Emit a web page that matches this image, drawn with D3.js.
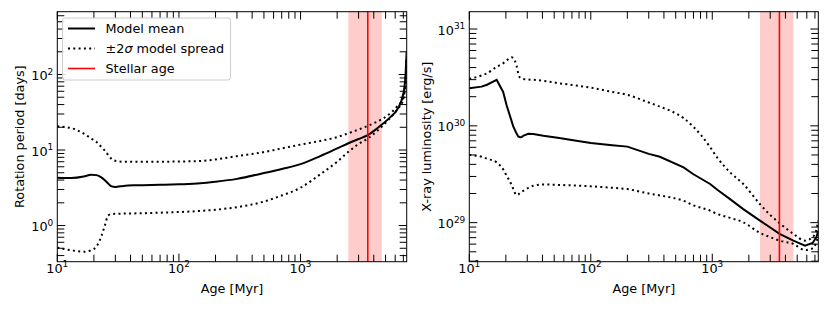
<!DOCTYPE html>
<html>
<head>
<meta charset="utf-8">
<script src="https://cdn.jsdelivr.net/npm/d3@7/dist/d3.min.js"></script>
<style>
  body { margin: 0; background: #fff; }
  text { font-family: "DejaVu Sans", sans-serif; fill: #000; }
</style>
</head>
<body>
<div id="chart"></div>
<script>
// ---- data ----
// left panel: rotation period [days] vs age [Myr]
let rotAge = [10, 13, 16.5, 19, 21, 23, 24.5, 26.2, 28, 30, 35, 45, 70, 100, 150, 200, 300, 500, 700,
              1000, 1450, 2000, 2500, 3000, 3600, 4200, 4800, 5500, 6200, 7000, 7300, 7450];
let rotMean = [4.3, 4.25, 4.45, 4.72, 4.65, 4.35, 4.0, 3.6, 3.3, 3.25, 3.35, 3.42, 3.47, 3.52, 3.62, 3.8, 4.15, 4.95, 5.6,
               6.5, 8.3, 10.5, 12.4, 14.0, 15.9, 19, 22.6, 27.5, 34, 56, 100, 200];
let rotUpper = [20.6, 19.5, 16.5, 14.2, 12.8, 11.0, 9.9, 8.6, 7.6, 7.2, 7.0, 7.0, 7.0, 7.05, 7.15, 7.5, 8.3, 9.4, 10.5,
                11.8, 13.2, 14.8, 16.8, 18.7, 21, 23.5, 26.3, 31, 37.5, 50, 80, 160];
let rotLower = [0.51, 0.47, 0.45, 0.47, 0.53, 0.72, 0.98, 1.36, 1.42, 1.43, 1.44, 1.45, 1.48, 1.51, 1.56, 1.62, 1.75, 2.08, 2.5,
                3.17, 4.76, 7.0, 9.6, 12, 14.3, 17.5, 21.4, 27, 34, 47, 85, 170];

// right panel: X-ray luminosity [erg/s] vs age [Myr]
let lxAge = [10, 12.6, 14, 16.8, 19, 20.3, 22.3, 23, 24.5, 25.3, 26.1, 27, 28, 30.6, 33.6, 40.7, 55, 67.5, 100, 150, 200,
             300, 370, 580, 700, 960, 1100, 1400, 1800, 2470, 3000, 3580, 4650, 5800, 6700, 7200, 7450];
let lxMean = [2.45e30, 2.54e30, 2.66e30, 2.98e30, 2.24e30, 1.62e30, 1.12e30, 9.84e29, 8.32e29, 7.76e29, 7.64e29, 7.67e29, 7.94e29,
              8.28e29, 8.22e29, 7.89e29, 7.50e29, 7.18e29, 6.64e29, 6.31e29, 6.10e29,
              5.13e29, 4.79e29, 3.72e29, 3.16e29, 2.51e29, 2.19e29, 1.75e29, 1.38e29, 1.05e29, 8.91e28, 7.66e28, 6.52e28, 5.79e28, 6.17e28, 7.08e28, 8.26e28];
let lxUpper = [3.05e30, 3.31e30, 3.49e30, 4.07e30, 4.43e30, 4.73e30, 5.11e30, 5.01e30, 4.17e30, 3.47e30, 3.16e30, 3.09e30, 3.05e30,
               3.01e30, 2.99e30, 2.92e30, 2.75e30, 2.66e30, 2.48e30, 2.24e30, 2.09e30,
               1.74e30, 1.58e30, 1.20e30, 9.77e29, 6.03e29, 4.68e29, 3.31e29, 2.51e29, 1.55e29, 1.20e29, 9.89e28, 7.66e28, 6.52e28, 7.08e28, 8.51e28, 1.05e29];
let lxLower = [5.01e29, 4.79e29, 4.57e29, 4.19e29, 3.55e29, 3.05e29, 2.45e29, 2.24e29, 1.93e29, 1.95e29, 2.04e29, 2.09e29, 2.14e29,
               2.29e29, 2.40e29, 2.48e29, 2.45e29, 2.43e29, 2.37e29, 2.29e29, 2.22e29,
               2.00e29, 1.91e29, 1.68e29, 1.51e29, 1.33e29, 1.23e29, 1.12e29, 1.01e29, 7.83e28, 7.08e28, 6.52e28, 6.03e28, 5.22e28, 5.43e28, 6.31e28, 7.35e28];

// stellar age and its range [Myr]
let stellarAge = 3570, stellarAgeLow = 2470, stellarAgeHigh = 4650;

let ageDomain = [10, 7460];
let rotDomain = [0.332, 679];
let lxDomain = [3.95e28, 1.51e31];

let legendItems = ["Model mean", "±2σ model spread", "Stellar age"];

// ---- drawing ----
let width = 830, height = 312, fontSize = 12.8;

let svg = d3.select("#chart")
    .append("svg")
    .attr("width", width)
    .attr("height", height);

function logTicks(domain) {
    let out = [];
    let lo = Math.floor(Math.log10(domain[0])), hi = Math.ceil(Math.log10(domain[1]));
    for (let e = lo; e <= hi; e++) {
        for (let k = 1; k < 10; k++) {
            let v = k * Math.pow(10, e);
            if (v >= domain[0] * 0.9999 && v <= domain[1] * 1.0001) out.push({ v: v, major: k === 1, e: e });
        }
    }
    return out;
}

function supLabel(sel, e) {
    sel.append("tspan").text("10");
    sel.append("tspan")
        .attr("dy", -5.5)
        .style("font-size", (fontSize * 0.7) + "px")
        .text(e);
}

function panel(p) {
    let x = d3.scaleLog().domain(ageDomain).range([p.x0, p.x1]);
    let y = d3.scaleLog().domain(p.yDomain).range([p.y1, p.y0]);
    let g = svg.append("g");

    g.append("clipPath").attr("id", "clip" + p.id)
        .append("rect")
        .attr("x", p.x0).attr("y", p.y0)
        .attr("width", p.x1 - p.x0).attr("height", p.y1 - p.y0);

    // age range shading
    g.append("rect")
        .attr("x", x(stellarAgeLow)).attr("y", p.y0)
        .attr("width", x(stellarAgeHigh) - x(stellarAgeLow))
        .attr("height", p.y1 - p.y0)
        .attr("fill", "#ffcccc");

    let curves = g.append("g").attr("clip-path", "url(#clip" + p.id + ")");
    [[p.upper, true, p.spreadCurve], [p.lower, true, p.spreadCurve], [p.mean, false, p.meanCurve]].forEach(function(s) {
        let line = d3.line()
            .x(function(d) { return x(d[0]); })
            .y(function(d) { return y(d[1]); })
            .curve(s[2]);
        curves.append("path")
            .datum(d3.zip(p.ages, s[0]))
            .attr("d", line)
            .attr("fill", "none")
            .attr("stroke", "#000")
            .attr("stroke-width", 2)
            .attr("stroke-dasharray", s[1] ? "2,3.3" : null);
    });

    g.append("line")
        .attr("x1", x(stellarAge)).attr("x2", x(stellarAge))
        .attr("y1", p.y0).attr("y2", p.y1)
        .attr("stroke", "#ff0000")
        .attr("stroke-width", 1.6);

    // frame
    g.append("rect")
        .attr("x", p.x0).attr("y", p.y0)
        .attr("width", p.x1 - p.x0).attr("height", p.y1 - p.y0)
        .attr("fill", "none").attr("stroke", "#000").attr("stroke-width", 1);

    // inward ticks on all sides
    let xt = logTicks(ageDomain), yt = logTicks(p.yDomain);
    xt.forEach(function(t) {
        let len = t.major ? 8 : 7, px = x(t.v);
        g.append("line").attr("x1", px).attr("x2", px).attr("y1", p.y1).attr("y2", p.y1 - len).attr("stroke", "#000");
        g.append("line").attr("x1", px).attr("x2", px).attr("y1", p.y0).attr("y2", p.y0 + len).attr("stroke", "#000");
        if (t.major) {
            g.append("text")
                .attr("x", px).attr("y", p.y1 + 11)
                .attr("text-anchor", "middle")
                .style("font-size", fontSize + "px")
                .call(supLabel, t.e);
        }
    });
    yt.forEach(function(t) {
        let len = t.major ? 8 : 7, py = y(t.v);
        g.append("line").attr("x1", p.x0).attr("x2", p.x0 + len).attr("y1", py).attr("y2", py).attr("stroke", "#000");
        g.append("line").attr("x1", p.x1).attr("x2", p.x1 - len).attr("y1", py).attr("y2", py).attr("stroke", "#000");
        if (t.major) {
            g.append("text")
                .attr("x", p.x0 - 4).attr("y", py + 5.5)
                .attr("text-anchor", "end")
                .style("font-size", fontSize + "px")
                .call(supLabel, t.e);
        }
    });

    // axis labels
    g.append("text")
        .attr("x", (p.x0 + p.x1) / 2).attr("y", 293)
        .attr("text-anchor", "middle")
        .style("font-size", fontSize + "px")
        .text("Age [Myr]");
    g.append("text")
        .attr("transform", "translate(" + p.yLabelX + "," + ((p.y0 + p.y1) / 2) + ") rotate(-90)")
        .attr("text-anchor", "middle")
        .style("font-size", fontSize + "px")
        .text(p.yLabel);

    return g;
}

panel({
    id: "rot", x0: 57.3, x1: 406.7, y0: 11.7, y1: 261.7,
    yDomain: rotDomain, ages: rotAge, mean: rotMean, upper: rotUpper, lower: rotLower,
    meanCurve: d3.curveMonotoneX, spreadCurve: d3.curveMonotoneX,
    yLabel: "Rotation period [days]", yLabelX: 24
});

panel({
    id: "lx", x0: 469.3, x1: 818.3, y0: 11.7, y1: 261.7,
    yDomain: lxDomain, ages: lxAge, mean: lxMean, upper: lxUpper, lower: lxLower,
    meanCurve: d3.curveLinear, spreadCurve: d3.curveMonotoneX,
    yLabel: "X-ray luminosity [erg/s]", yLabelX: 430.5
});

// legend (left panel)
let legend = svg.append("g");
legend.append("rect")
    .attr("x", 62.5).attr("y", 18).attr("width", 168).attr("height", 62)
    .attr("rx", 2.5)
    .attr("fill", "#fff").attr("fill-opacity", 0.8)
    .attr("stroke", "#cccccc").attr("stroke-width", 1);

let legendStyles = [
    { color: "#000", dash: null, w: 2 },
    { color: "#000", dash: "2,3.3", w: 2 },
    { color: "#ff0000", dash: null, w: 1.6 }
];
legendItems.forEach(function(name, i) {
    let ly = 28.5 + i * 20;
    legend.append("line")
        .attr("x1", 68).attr("x2", 95).attr("y1", ly).attr("y2", ly)
        .attr("stroke", legendStyles[i].color)
        .attr("stroke-width", legendStyles[i].w)
        .attr("stroke-dasharray", legendStyles[i].dash);
    let t = legend.append("text")
        .attr("x", 105.5).attr("y", ly + 4.6)
        .style("font-size", fontSize + "px");
    if (name.indexOf("σ") >= 0) {
        let parts = name.split("σ");
        t.append("tspan").text(parts[0]);
        t.append("tspan").style("font-style", "italic").text("σ");
        t.append("tspan").text(parts[1]);
    } else {
        t.text(name);
    }
});
</script>
</body>
</html>
